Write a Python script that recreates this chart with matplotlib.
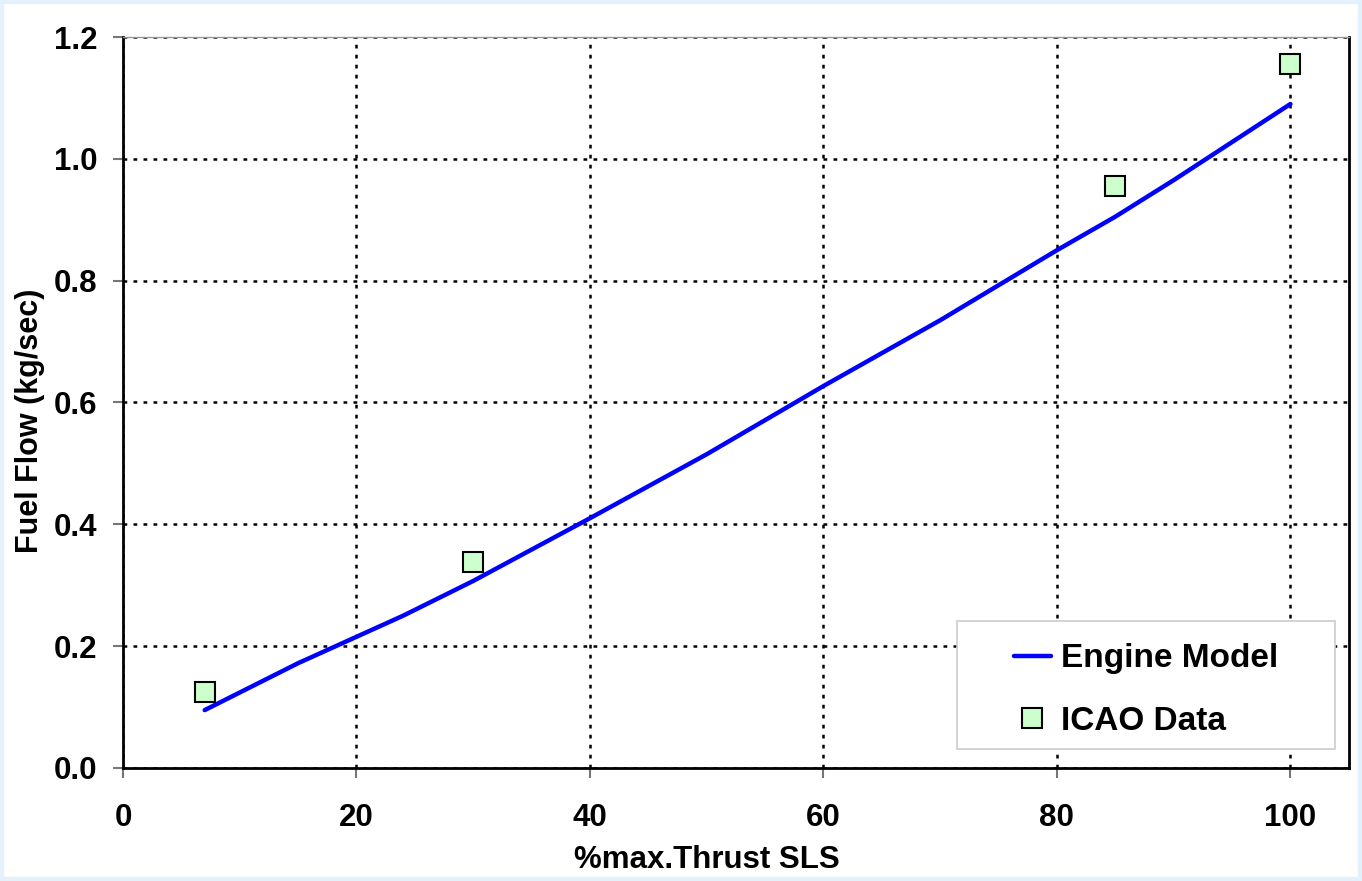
import matplotlib
matplotlib.use("Agg")
import matplotlib.pyplot as plt
from matplotlib.patches import Rectangle

plt.rcParams['font.family'] = ['Liberation Sans', 'DejaVu Sans']
plt.rcParams['font.weight'] = 'bold'

model_x = [7, 15, 24, 30, 40, 50, 60, 70, 80, 85, 90, 100]
model_y = [0.095, 0.172, 0.25, 0.307, 0.41, 0.515, 0.627, 0.735, 0.85, 0.905, 0.965, 1.09]
icao_x = [7, 30, 85, 100]
icao_y = [0.125, 0.338, 0.955, 1.155]
xticks = [0, 20, 40, 60, 80, 100]
yticks = [0.0, 0.2, 0.4, 0.6, 0.8, 1.0, 1.2]

fig = plt.figure(figsize=(13.62, 8.81), dpi=100)
fig.patch.set_facecolor('white')
fig.patches.append(Rectangle((0, 0), 1, 1, transform=fig.transFigure, fill=False,
                             edgecolor='#E3F1FD', linewidth=6, zorder=0))
ax = fig.add_axes([0.0903, 0.1283, 0.900, 0.8297])

ax.plot(model_x, model_y, color='#0000FF', lw=3.2, label='Engine Model', zorder=3,
        solid_capstyle='round')
ax.plot(icao_x, icao_y, ls='none', marker='s', markersize=14, markerfacecolor='#CCFFCC',
        markeredgecolor='black', markeredgewidth=1.5, label='ICAO Data', zorder=4)

ax.set_xlim(0, 105)
ax.set_ylim(0, 1.2)
ax.set_xticks(xticks)
ax.set_xticklabels([f'{v}' for v in xticks])
ax.set_yticks(yticks)
ax.set_yticklabels([f'{v:.1f}' for v in yticks])
ax.tick_params(axis='both', direction='out', length=7.5, width=1.5, color='#777777',
               labelsize=22.5)
ax.tick_params(axis='y', pad=11)
ax.tick_params(axis='x', pad=18)
for lab in ax.get_xticklabels() + ax.get_yticklabels():
    lab.set_fontweight('bold')

ax.grid(True, color='black', linestyle=(0, (1.5, 2.5)), linewidth=1.8, zorder=1)
ax.set_axisbelow(True)
for s in ['left', 'bottom', 'right']:
    ax.spines[s].set_color('black')
    ax.spines[s].set_linewidth(2)
ax.spines['top'].set_color('#999999')
ax.spines['top'].set_linewidth(1)

ax.set_xlabel('%max.Thrust SLS', fontsize=22.5, fontweight='bold', labelpad=14)
ax.xaxis.set_label_coords(0.476, -0.105)
ax.set_ylabel('Fuel Flow (kg/sec)', fontsize=22, fontweight='bold', labelpad=6)
ax.yaxis.label.set_y(0.475)

# legend frame
x0, x1, y0, y1 = 0.6803, 0.9886, 0.026, 0.2011
ax.add_patch(Rectangle((x0, y0), x1 - x0, y1 - y0, transform=ax.transAxes,
                       facecolor='white', edgecolor='#CCCCCC', linewidth=1.2, zorder=5))
leg = ax.legend(loc='center', bbox_to_anchor=((x0 + x1) / 2, (y0 + y1) / 2 - 0.007),
                fontsize=24, frameon=False, handlelength=1.1, handletextpad=0.3,
                borderpad=0.0, labelspacing=0.95, borderaxespad=0)
leg.set_zorder(6)
for t in leg.get_texts():
    t.set_fontweight('bold')

fig.savefig('out.png', dpi=100, facecolor=fig.get_facecolor())
